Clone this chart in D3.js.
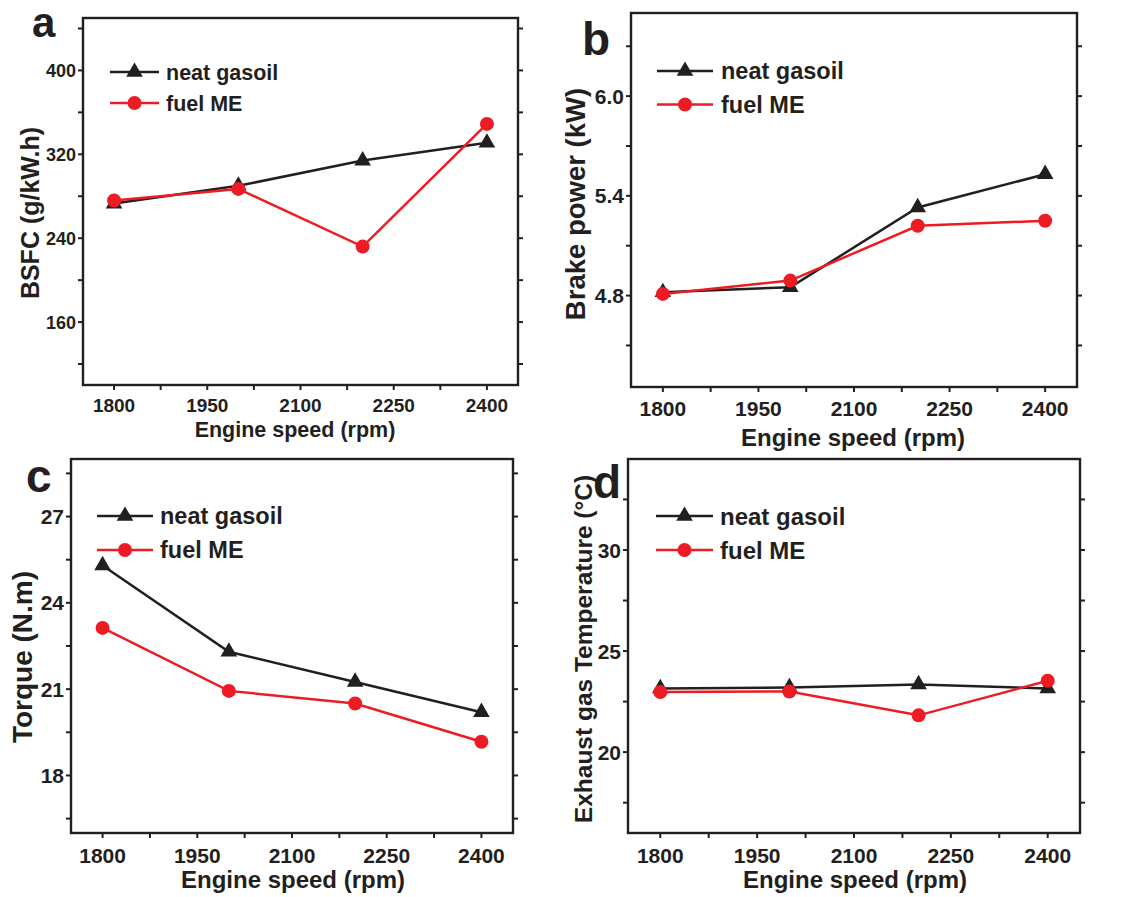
<!DOCTYPE html>
<meta charset="utf-8">
<style>
  body { margin: 0; background: #fff; }
  svg text { font-family: "Liberation Sans", Arial, sans-serif; font-weight: bold; fill: #231f20; }
</style>
<svg width="1125" height="897"></svg>
<script src="https://d3js.org/d3.v7.min.js"></script>
<script>

// engine speed (rpm) of the four measurements
var speeds = [1800, 2000, 2200, 2400];
var xTicks = [1800, 1950, 2100, 2250, 2400];
var seriesNames = ["neat gasoil", "fuel ME"];

// a - BSFC (g/kW.h)
var bsfcGasoil = [273, 290, 314, 331];
var bsfcME = [276, 287, 232, 349];
var bsfcTicks = [160, 240, 320, 400];

// b - brake power (kW)
var powerGasoil = [4.82, 4.85, 5.33, 5.53];
var powerME = [4.81, 4.89, 5.22, 5.25];
var powerTicks = [4.8, 5.4, 6.0];

// c - torque (N.m)
var torqueGasoil = [25.3, 22.3, 21.25, 20.2];
var torqueME = [23.13, 20.94, 20.5, 19.17];
var torqueTicks = [18, 21, 24, 27];

// d - exhaust gas temperature (°C)
var exhaustGasoil = [23.15, 23.2, 23.35, 23.15];
var exhaustME = [22.97, 23.0, 21.82, 23.53];
var exhaustTicks = [20, 25, 30];

var colors = ["#231f20", "#ed1c24"];
var svg = d3.select("svg");

var panels = [
  {letter: "a", box: [83, 18, 518, 385], yDom: [100, 450], yTicks: bsfcTicks, minor: 40, fmt: d3.format("d"),
   data: [bsfcGasoil, bsfcME], yTitle: "BSFC (g/kW.h)",
   letterPos: [32, 37], letterSize: 42, tickX: 19, tickY: 18, xTitleSize: 21.5, xTitleY: 437, xTitleX: 295,
   yTitleSize: 25, yTitleX: 39, yTitleY: 213, xTickY: 412,
   legend: {x1: 110, x2: 159, y: 72, dy: 31, tx: 166, size: 21.5}},
  {letter: "b", box: [631, 13, 1077, 387], yDom: [4.25, 6.5], yTicks: powerTicks, minor: 0.3, fmt: d3.format(".1f"),
   data: [powerGasoil, powerME], yTitle: "Brake power (kW)",
   letterPos: [582, 55], letterSize: 46, tickX: 21, tickY: 21, xTitleSize: 24, xTitleY: 446, xTitleX: 853,
   yTitleSize: 27.5, yTitleX: 585, yTitleY: 204, xTickY: 416,
   legend: {x1: 657, x2: 713, y: 71, dy: 33.5, tx: 721, size: 23.5}},
  {letter: "c", box: [71, 459, 513, 833], yDom: [16, 29], yTicks: torqueTicks, minor: 1.5, fmt: d3.format("d"),
   data: [torqueGasoil, torqueME], yTitle: "Torque (N.m)",
   letterPos: [26, 492], letterSize: 46, tickX: 21, tickY: 21, xTitleSize: 24, xTitleY: 888, xTitleX: 293,
   yTitleSize: 28, yTitleX: 32, yTitleY: 657, xTickY: 863,
   legend: {x1: 97, x2: 153, y: 516, dy: 34, tx: 160, size: 23.5}},
  {letter: "d", box: [628, 459, 1080, 833], yDom: [16, 34.5], yTicks: exhaustTicks, minor: 2.5, fmt: d3.format("d"),
   data: [exhaustGasoil, exhaustME], yTitle: "Exhaust gas Temperature (°C)",
   letterPos: [593, 498], letterSize: 46, tickX: 21, tickY: 21, xTitleSize: 24, xTitleY: 888, xTitleX: 855,
   yTitleSize: 24.5, yTitleX: 592, yTitleY: 649, xTickY: 863,
   legend: {x1: 656, x2: 713, y: 516, dy: 34, tx: 720, size: 24}}
];

panels.forEach(function(p) {
  var x0 = p.box[0], y0 = p.box[1], x1 = p.box[2], y1 = p.box[3];
  var g = svg.append("g");

  var x = d3.scaleLinear().domain([1750, 2450]).range([x0, x1]);
  var y = d3.scaleLinear().domain(p.yDom).range([y1, y0]);

  // frame
  g.append("rect")
    .attr("x", x0).attr("y", y0)
    .attr("width", x1 - x0).attr("height", y1 - y0)
    .attr("fill", "none").attr("stroke", "#231f20").attr("stroke-width", 2.4);

  // minor ticks
  var yMinor = d3.range(Math.ceil(p.yDom[0] / p.minor) * p.minor, p.yDom[1] + 1e-9, p.minor);
  var xMinor = d3.range(1800, 2401, 75);

  g.selectAll(".ytick").data(yMinor).enter().append("line")
    .attr("x1", x0 - 5).attr("x2", x0)
    .attr("y1", function(d) { return y(d); }).attr("y2", function(d) { return y(d); })
    .attr("stroke", "#231f20").attr("stroke-width", 2);
  g.selectAll(".ytickr").data(yMinor).enter().append("line")
    .attr("x1", x1).attr("x2", x1 + 5)
    .attr("y1", function(d) { return y(d); }).attr("y2", function(d) { return y(d); })
    .attr("stroke", "#231f20").attr("stroke-width", 2);
  g.selectAll(".xtick").data(xMinor).enter().append("line")
    .attr("x1", function(d) { return x(d); }).attr("x2", function(d) { return x(d); })
    .attr("y1", y1).attr("y2", y1 + 5)
    .attr("stroke", "#231f20").attr("stroke-width", 2);

  // tick labels
  g.selectAll(".ylab").data(p.yTicks).enter().append("text")
    .attr("x", x0 - 7)
    .attr("y", function(d) { return y(d); })
    .attr("dy", "0.36em")
    .attr("text-anchor", "end")
    .style("font-size", p.tickY + "px")
    .text(p.fmt);
  g.selectAll(".xlab").data(xTicks).enter().append("text")
    .attr("x", function(d) { return x(d); })
    .attr("y", p.xTickY)
    .attr("text-anchor", "middle")
    .style("font-size", p.tickX + "px")
    .text(function(d) { return d; });

  // titles
  g.append("text")
    .attr("x", p.xTitleX).attr("y", p.xTitleY)
    .attr("text-anchor", "middle")
    .style("font-size", p.xTitleSize + "px")
    .text("Engine speed (rpm)");
  g.append("text")
    .attr("transform", "translate(" + p.yTitleX + "," + p.yTitleY + ") rotate(-90)")
    .attr("text-anchor", "middle")
    .style("font-size", p.yTitleSize + "px")
    .text(p.yTitle);
  g.append("text")
    .attr("x", p.letterPos[0]).attr("y", p.letterPos[1])
    .style("font-size", p.letterSize + "px")
    .text(p.letter);

  // series
  var line = d3.line()
    .x(function(d, i) { return x(speeds[i]); })
    .y(function(d) { return y(d); });
  var tri = d3.symbol().type(d3.symbolTriangle).size(120);

  p.data.forEach(function(vals, k) {
    g.append("path")
      .attr("d", line(vals))
      .attr("fill", "none")
      .attr("stroke", colors[k])
      .attr("stroke-width", 2.5);
    if (k === 0) {
      g.selectAll(".tri").data(vals).enter().append("path")
        .attr("d", tri)
        .attr("transform", function(d, i) { return "translate(" + x(speeds[i]) + "," + y(d) + ")"; })
        .attr("fill", colors[0]);
    } else {
      g.selectAll(".dot").data(vals).enter().append("circle")
        .attr("cx", function(d, i) { return x(speeds[i]); })
        .attr("cy", function(d) { return y(d); })
        .attr("r", 7)
        .attr("fill", colors[1]);
    }
  });

  // legend
  var L = p.legend;
  seriesNames.forEach(function(name, k) {
    var ly = L.y + k * L.dy;
    g.append("line")
      .attr("x1", L.x1).attr("x2", L.x2)
      .attr("y1", ly).attr("y2", ly)
      .attr("stroke", colors[k]).attr("stroke-width", 2.5);
    if (k === 0) {
      g.append("path").attr("d", tri)
        .attr("transform", "translate(" + ((L.x1 + L.x2) / 2) + "," + ly + ")")
        .attr("fill", colors[0]);
    } else {
      g.append("circle")
        .attr("cx", (L.x1 + L.x2) / 2).attr("cy", ly).attr("r", 7)
        .attr("fill", colors[1]);
    }
    g.append("text")
      .attr("x", L.tx).attr("y", ly)
      .attr("dy", "0.36em")
      .style("font-size", L.size + "px")
      .text(name);
  });
});

</script>
